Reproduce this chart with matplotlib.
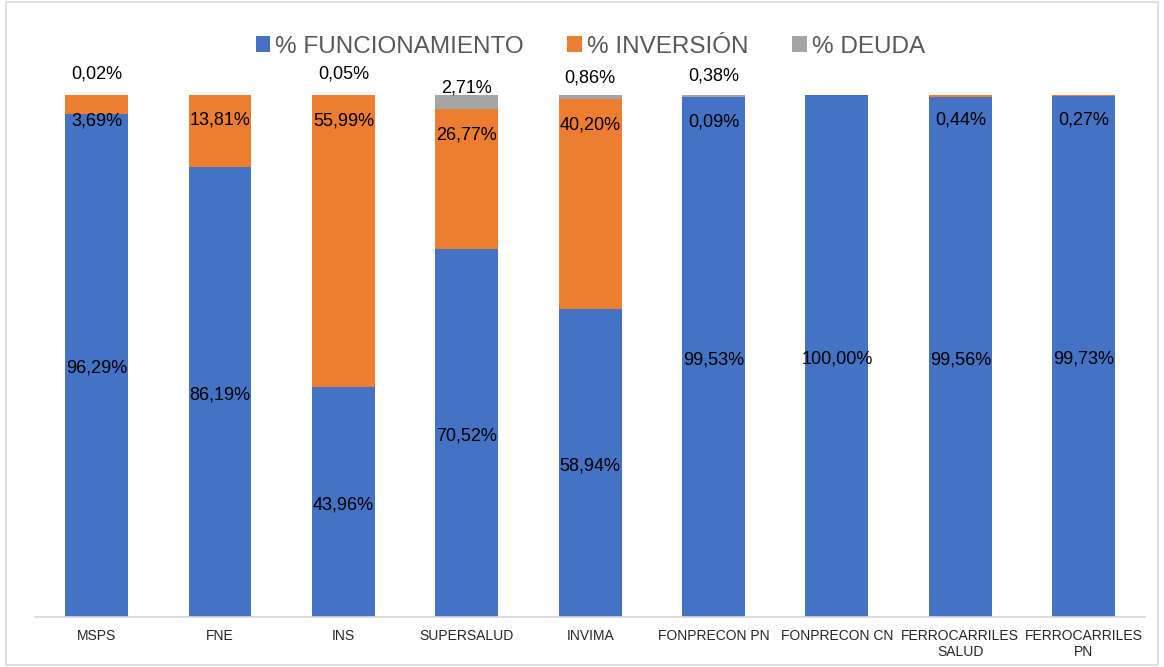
import matplotlib.pyplot as plt
import numpy as np

plt.rcParams['font.family'] = ['Liberation Sans', 'DejaVu Sans']

categories = ["MSPS", "FNE", "INS", "SUPERSALUD", "INVIMA", "FONPRECON PN",
              "FONPRECON CN", "FERROCARRILES\nSALUD", "FERROCARRILES\nPN"]
funcionamiento = [96.29, 86.19, 43.96, 70.52, 58.94, 99.53, 100.00, 99.56, 99.73]
inversion = [3.69, 13.81, 55.99, 26.77, 40.20, 0.09, 0.0, 0.44, 0.27]
deuda = [0.02, 0.0, 0.05, 2.71, 0.86, 0.38, 0.0, 0.0, 0.0]

def fmt(v):
    return "{:.2f}%".format(v).replace(".", ",")

fig = plt.figure(figsize=(11.64, 6.67), dpi=100)
ax = fig.add_axes([0.030, 0.075, 0.954, 0.783])

x = np.arange(len(categories))
f = np.array(funcionamiento)
i = np.array(inversion)
d = np.array(deuda)
w = 0.51

ax.bar(x, f, w, color="#4472C4", label="% FUNCIONAMIENTO")
ax.bar(x, i, w, bottom=f, color="#ED7D31", label="% INVERSIÓN")
ax.bar(x, d, w, bottom=f + i, color="#A5A5A5", label="% DEUDA")

for k in range(len(x)):
    # funcionamiento: centered
    ax.annotate(fmt(f[k]), (x[k], f[k] / 2), xytext=(0, -2), textcoords="offset points",
                ha="center", va="center", fontsize=13, color="black")
    # inversion: near top of segment
    if i[k] > 0:
        ax.annotate(fmt(i[k]), (x[k], f[k] + i[k]), xytext=(0, -18.5), textcoords="offset points",
                    ha="center", va="center", fontsize=13, color="black", annotation_clip=False)
    # deuda: above bar
    if d[k] > 0:
        ax.annotate(fmt(d[k]), (x[k], f[k] + i[k]), xytext=(0, 15.0), textcoords="offset points",
                    ha="center", va="center", fontsize=13, color="black", annotation_clip=False)

ax.set_xlim(-0.5, len(x) - 0.5)
ax.set_ylim(0, 100)
ax.set_xticks(x)
ax.set_xticklabels(categories, fontsize=10, color="#262626", linespacing=1.1)
ax.tick_params(axis="x", length=0, pad=9)
ax.set_yticks([])
for s in ["top", "right", "left"]:
    ax.spines[s].set_visible(False)
ax.spines["bottom"].set_color("#D9D9D9")
ax.spines["bottom"].set_linewidth(1.2)

leg = fig.legend(loc="center", bbox_to_anchor=(0.507, 0.93), ncol=3, frameon=False,
                 fontsize=17.5, handlelength=0.6, handleheight=0.6, handletextpad=0.2,
                 columnspacing=1.8)
for t in leg.get_texts():
    t.set_color("#595959")

fig.patches.append(plt.Rectangle((0.005, 0.003), 0.99, 0.994, transform=fig.transFigure,
                                 fill=False, edgecolor="#D9D9D9", linewidth=1.2))

fig.savefig("out.png", dpi=100)
